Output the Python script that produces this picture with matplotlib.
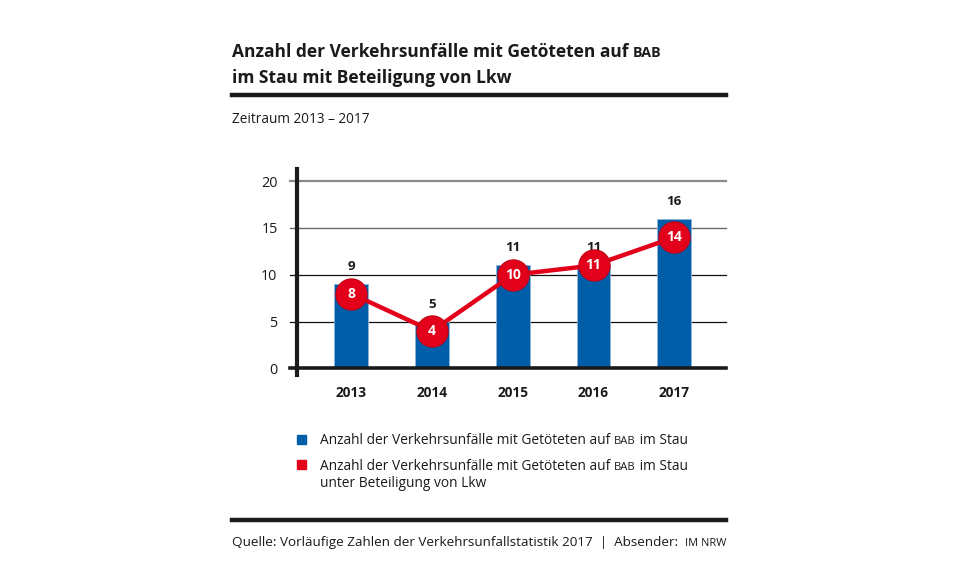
import matplotlib
matplotlib.use("Agg")
import matplotlib.pyplot as plt

plt.rcParams['font.family'] = ['Open Sans', 'DejaVu Sans']

years = ["2013", "2014", "2015", "2016", "2017"]
bar_values = [9, 5, 11, 11, 16]
line_values = [8, 4, 10, 11, 14]
yticks = [0, 5, 10, 15, 20]

BLUE = "#005ea8"
RED = "#e2001a"
INK = "#1a1a1a"

W, H = 961, 581
fig = plt.figure(figsize=(W / 100, H / 100), dpi=100)

def fx(px):
    return px / W

def fy(py):
    return 1 - py / H

ax_left, ax_right = 297, 726
ax_top, ax_bottom = 169, 375
ax = fig.add_axes([fx(ax_left), fy(ax_bottom), fx(ax_right - ax_left), (ax_bottom - ax_top) / H])
ax.set_xlim(-0.67, 4.64)
ax.set_ylim(-0.7, 21.3)

x = list(range(len(years)))

grid_styles = {20: ("#8a8a8a", 1.6), 15: ("#6a6a6a", 1.0), 10: ("#111111", 0.9), 5: ("#111111", 0.9)}
ext = -7 / (ax_right - ax_left)
for v, (c, lw) in grid_styles.items():
    ax.axhline(v, xmin=ext, xmax=1, color=c, lw=lw, clip_on=False, zorder=1)

ax.bar(x, bar_values, width=0.42, color=BLUE, edgecolor="#8fb3d9", linewidth=0.6, zorder=2)
ax.axhline(0, xmin=ext, xmax=1, color=INK, lw=2.6, clip_on=False, zorder=4)

for xi, v in zip(x, bar_values):
    ax.annotate(str(v), (xi, v), xytext=(0, 8), textcoords="offset points",
                ha="center", va="bottom", fontsize=9.6, fontweight="bold", color=INK)

ax.plot(x, line_values, color=RED, lw=3.2, zorder=5, solid_capstyle="round")
ax.plot(x, line_values, ls="none", marker="o", markersize=22.5, markerfacecolor=RED,
        markeredgecolor="#c00015", markeredgewidth=0.8, zorder=6)
for xi, v in zip(x, line_values):
    ax.text(xi, v, str(v), ha="center", va="center", fontsize=10, fontweight="bold",
            color="white", zorder=7)

for s in ["top", "right", "bottom"]:
    ax.spines[s].set_visible(False)
ax.spines["left"].set_linewidth(3)
ax.spines["left"].set_color(INK)
ax.set_yticks(yticks)
ax.set_yticklabels([str(t) for t in yticks], fontsize=10.4, color=INK)
ax.tick_params(axis="y", length=0, pad=14)
ax.set_xticks(x)
ax.set_xticklabels(years, fontsize=9.8, fontweight="bold", color=INK)
ax.tick_params(axis="x", length=0, pad=8)

def mixed(px_x, px_y, parts, fs, weight="normal", small_scale=0.82):
    xpos = px_x / W
    for txt, small in parts:
        t = fig.text(xpos, fy(px_y), txt, fontsize=fs * (small_scale if small else 1.0), va="baseline",
                     ha="left", color=INK, fontweight=weight)
        fig.canvas.draw()
        e = t.get_window_extent(fig.canvas.get_renderer())
        xpos = e.x1 / W

mixed(232, 57, [("Anzahl der Verkehrsunfälle mit Getöteten auf ", False), ("BAB", True)], 12.5, "bold")
mixed(232, 83, [("im Stau mit Beteiligung von Lkw", False)], 12.5, "bold")

fig.add_artist(plt.Line2D([fx(232), fx(726)], [fy(95), fy(95)], color=INK, lw=3.2))
fig.add_artist(plt.Line2D([fx(232), fx(726)], [fy(520), fy(520)], color=INK, lw=3.2))

mixed(232, 123, [("Zeitraum 2013 – 2017", False)], 9.8)

fig.add_artist(plt.Rectangle((fx(297), fy(444)), fx(9), 9 / H, color=BLUE, transform=fig.transFigure))
fig.add_artist(plt.Rectangle((fx(297), fy(469)), fx(9), 9 / H, color=RED, transform=fig.transFigure))

leg_fs = 9.9
mixed(320, 444, [("Anzahl der Verkehrsunfälle mit Getöteten auf ", False), ("BAB", True), (" im Stau", False)], leg_fs)
mixed(320, 470, [("Anzahl der Verkehrsunfälle mit Getöteten auf ", False), ("BAB", True), (" im Stau", False)], leg_fs)
mixed(320, 487, [("unter Beteiligung von Lkw", False)], leg_fs)

mixed(232, 546, [("Quelle: Vorläufige Zahlen der Verkehrsunfallstatistik 2017  |  Absender:  ", False), ("IM NRW", True)], 9.7)

fig.savefig("out.png", dpi=100)
